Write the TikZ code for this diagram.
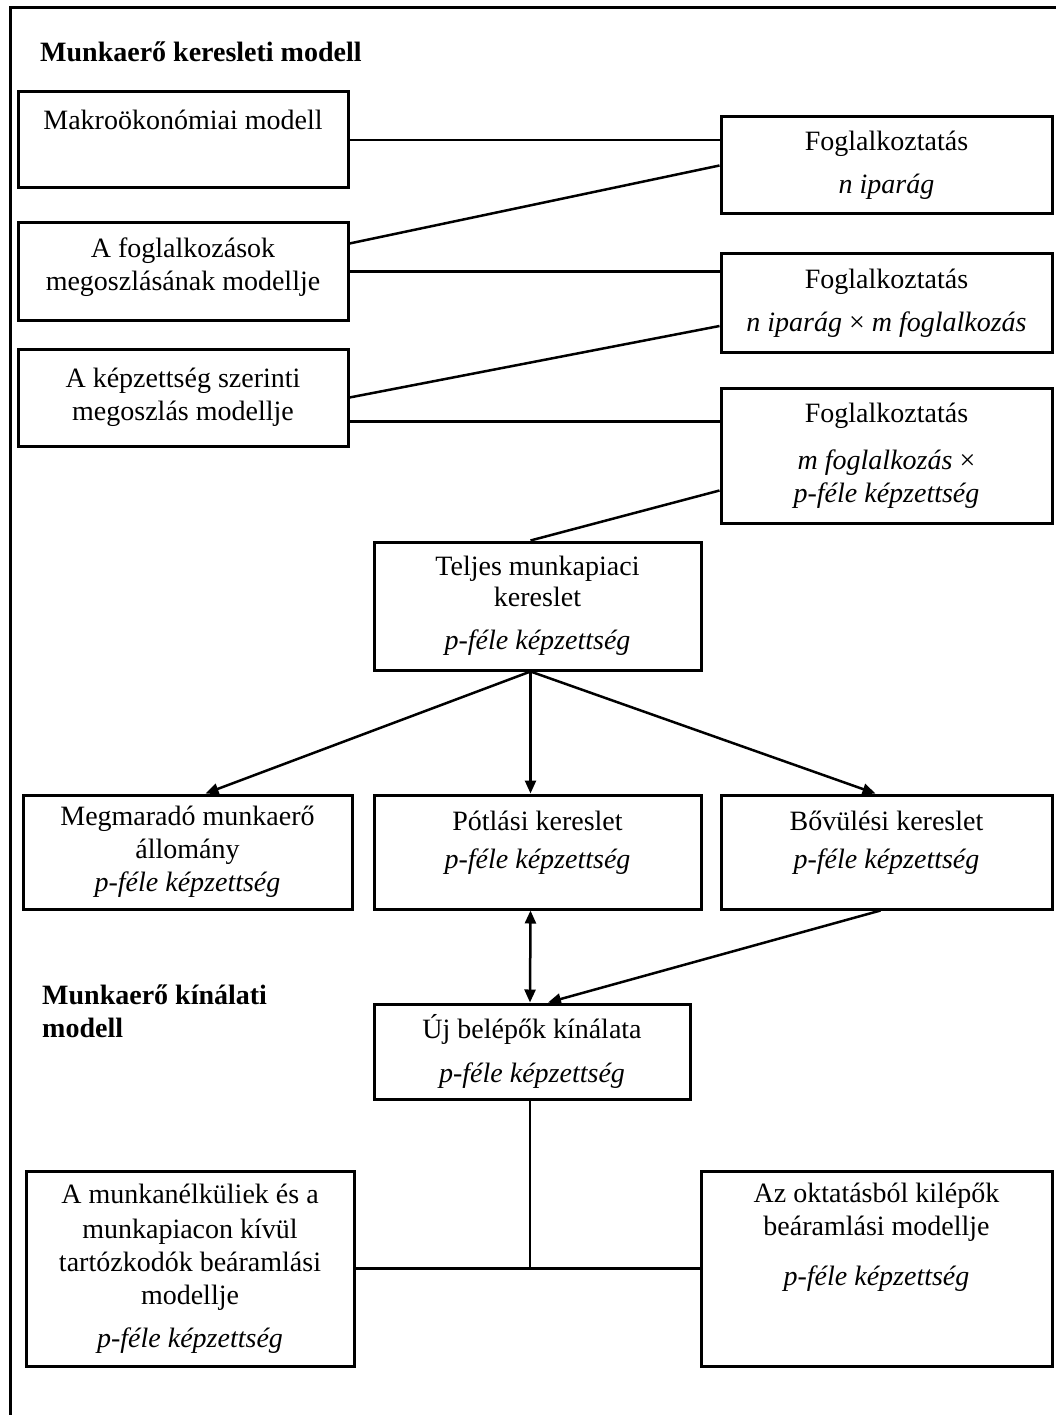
\documentclass[tikz,border=0pt]{standalone}
\usepackage{fontspec}
\setmainfont{Liberation Serif}
\usetikzlibrary{arrows.meta}

\tikzset{
    box/.style={draw, line width=3pt, align=center, inner sep=0pt},
    link/.style={line width=2.5pt},
    arr/.style={link, -{Triangle[length=13pt,width=11pt]}},
    dblarr/.style={link, {Triangle[length=13pt,width=11pt]}-{Triangle[length=13pt,width=11pt]}},
    title/.style={font=\fontsize{28}{33}\selectfont\bfseries, align=left, inner sep=0pt}
}

\begin{document}
\begin{tikzpicture}[x=1pt, y=-1pt, font=\fontsize{28}{33}\selectfont]
            \useasboundingbox (0,0) rectangle (1056,1415);
            % outer frame (cut off at right and bottom)
            \draw[line width=3pt] (10,1415) -- (10,8) -- (1056,8);

            \node[title, anchor=base west] (demand) at (40,62) {Munkaerő keresleti modell};
            \node[title, anchor=north west] (supply) at (42,985) {Munkaerő kínálati\\modell};

            % left column of models
            \node[box, minimum width=330pt, minimum height=96pt] (makro) at (183,140) {Makroökonómiai modell\\[7pt]\mbox{}};
            \node[box, minimum width=330pt, minimum height=97pt] (fogl) at (183,271.5) {A foglalkozások\\megoszlásának modellje\\[-19pt]\mbox{}};
            \node[box, minimum width=330pt, minimum height=97pt] (kepz) at (183,397.5) {A képzettség szerinti\\megoszlás modellje};

            % employment boxes
            \node[box, minimum width=331pt, minimum height=97pt] (emp1) at (886.5,165.5) {Foglalkoztatás\\[10pt]\textit{n iparág}};
            \node[box, minimum width=331pt, minimum height=98pt] (emp2) at (886.5,303) {Foglalkoztatás\\[10pt]\textit{n iparág} × \textit{m foglalkozás}};
            \node[box, minimum width=331pt, minimum height=135pt] (emp3) at (886.5,455.5) {Foglalkoztatás\\[14pt]\textit{m foglalkozás} ×\\\textit{p-féle képzettség}};

            \node[box, minimum width=327pt, minimum height=128pt] (total) at (537.5,606) {Teljes munkapiaci\\[-2pt]kereslet\\[10pt]\textit{p-féle képzettség}};

            % demand components
            \node[box, minimum width=329pt, minimum height=114pt] (remain) at (187.5,852) {Megmaradó munkaerő\\állomány\\\textit{p-féle képzettség}};
            \node[box, minimum width=327pt, minimum height=114pt] (repl) at (537.5,852) {Pótlási kereslet\\[5pt]\textit{p-féle képzettség}\\[-9pt]\mbox{}};
            \node[box, minimum width=331pt, minimum height=114pt] (expan) at (886.5,852) {Bővülési kereslet\\[5pt]\textit{p-féle képzettség}\\[-9pt]\mbox{}};

            \node[box, minimum width=316pt, minimum height=95pt] (newin) at (532,1051.5) {Új belépők kínálata\\[11pt]\textit{p-féle képzettség}};

            % inflow models
            \node[box, minimum width=328pt, minimum height=195pt] (unemp) at (190,1268.5) {A munkanélküliek és a\\[2pt]munkapiacon kívül\\tartózkodók beáramlási\\modellje\\[10pt]\textit{p-féle képzettség}};
            \node[box, minimum width=351pt, minimum height=195pt] (educ) at (876.5,1268.5) {Az oktatásból kilépők\\beáramlási modellje\\[17pt]\textit{p-féle képzettség}\\[35pt]\mbox{}};

            % connections
            \draw[link] (makro.east) -- (makro.east -| emp1.west);
            \draw[link] ([yshift=28pt]fogl.east) -- (emp1.west);
            \draw[link] (fogl.east) -- (fogl.east -| emp2.west);
            \draw[link] (kepz.east) -- ([yshift=-23pt]emp2.west);
            \draw[link] ([yshift=-24pt]kepz.east) -- ([yshift=-24pt]kepz.east -| emp3.west);
            \draw[link] ([yshift=-35pt]emp3.west) -- ([xshift=-7pt]total.north);

            \draw[arr] ([xshift=-7pt]total.south) -- ([xshift=18pt]remain.north);
            \draw[arr] ([xshift=-7pt]total.south) -- ([xshift=-7pt]repl.north);
            \draw[arr] ([xshift=-7pt]total.south) -- ([xshift=-11pt]expan.north);

            \draw[dblarr] ([xshift=-7pt]repl.south) -- ([xshift=-2pt]newin.north);
            \draw[arr] ([xshift=-6pt]expan.south) -- ([xshift=16pt]newin.north);

            \draw[link] ([xshift=-2pt]newin.south) -- ([xshift=-2pt]newin.south |- unemp.east);
            \draw[link] (unemp.east) -- (educ.west);
\end{tikzpicture}
\end{document}
